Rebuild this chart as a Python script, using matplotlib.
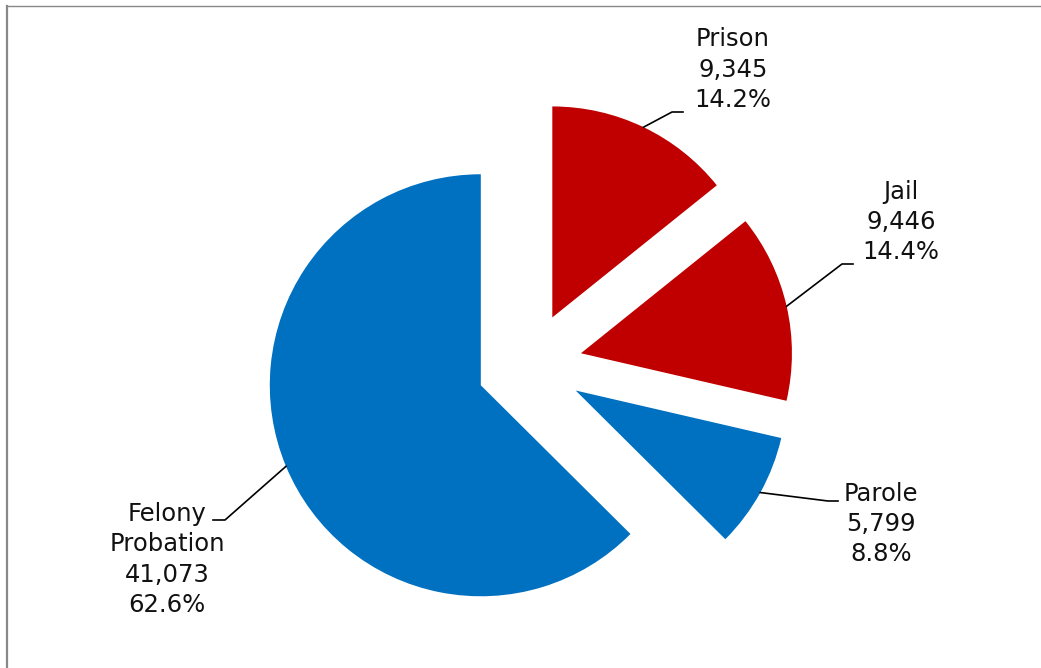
import numpy as np
import matplotlib
matplotlib.use("Agg")
import matplotlib.pyplot as plt
from matplotlib.lines import Line2D

# data
labels = ["Prison", "Jail", "Parole", "Felony\nProbation"]
counts = [9345, 9446, 5799, 41073]
colors = ["#C00000", "#C00000", "#0070C0", "#0070C0"]
explode = [0.25, 0.25, 0.25, 0.25]

W, H = 1041, 668
CX, CY = 529.5, 365.0   # pie centre in pixels
R = 211.0               # pixels per unit radius


def px(x, y):
    # pixel position -> data position
    return (x - CX) / R, (CY - y) / R


fig = plt.figure(figsize=(W / 100, H / 100), dpi=100)
ax = fig.add_axes([0, 0, 1, 1])
ax.axis("off")

wedges, _ = ax.pie(counts, colors=colors, explode=explode, startangle=90,
                   counterclock=False, radius=1, center=(0, 0),
                   wedgeprops=dict(linewidth=0))
ax.set_xlim(px(0, 0)[0], px(W, 0)[0])
ax.set_ylim(px(0, H)[1], px(0, 0)[1])
ax.set_aspect("equal")

total = sum(counts)
# label placement (pixels): text centre, elbow, end of horizontal
label_pos = [(733, 69.5), (901, 222), (881, 524), (167, 559.5)]
elbows = [((672, 112), (683, 112)), ((842, 264), (853, 264)),
          ((828, 501), (838, 501)), ((225, 520), (213, 520))]

for w, lab, n, tp, (e1, e2), ex in zip(wedges, labels, counts, label_pos, elbows, explode):
    mid = np.deg2rad((w.theta1 + w.theta2) / 2)
    sx = (1 + ex) * np.cos(mid)
    sy = (1 + ex) * np.sin(mid)
    p1 = px(*e1)
    p2 = px(*e2)
    ax.plot([sx, p1[0], p2[0]], [sy, p1[1], p2[1]], color="black", lw=1.2)
    txt = f"{lab}\n{n:,}\n{n / total * 100:.1f}%"
    tx, ty = px(*tp)
    ax.text(tx, ty, txt, ha="center", va="center", fontsize=17.5,
            linespacing=1.33, color="#111111", family="DejaVu Sans")

# chart border
fig.add_artist(Line2D([7 / W, 7 / W], [0, 1 - 5.5 / H], color="#888888", lw=1.6))
fig.add_artist(Line2D([7 / W, 1], [1 - 5.5 / H, 1 - 5.5 / H], color="#888888", lw=1.0))

fig.savefig("out.png", dpi=100)
